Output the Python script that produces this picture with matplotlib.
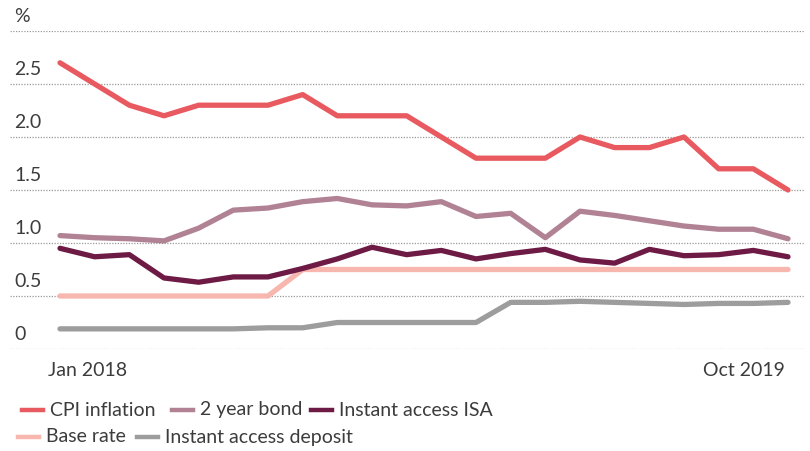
import matplotlib.pyplot as plt
from matplotlib.lines import Line2D
import numpy as np

plt.rcParams['font.family'] = ['Lato', 'DejaVu Sans']

months = ['Jan 2018', 'Feb 2018', 'Mar 2018', 'Apr 2018', 'May 2018', 'Jun 2018',
          'Jul 2018', 'Aug 2018', 'Sep 2018', 'Oct 2018', 'Nov 2018', 'Dec 2018',
          'Jan 2019', 'Feb 2019', 'Mar 2019', 'Apr 2019', 'May 2019', 'Jun 2019',
          'Jul 2019', 'Aug 2019', 'Sep 2019', 'Oct 2019']

cpi = [2.7, 2.5, 2.3, 2.2, 2.3, 2.3, 2.3, 2.4, 2.2, 2.2, 2.2, 2.0,
       1.8, 1.8, 1.8, 2.0, 1.9, 1.9, 2.0, 1.7, 1.7, 1.5]
bond_2y = [1.07, 1.05, 1.04, 1.02, 1.14, 1.31, 1.33, 1.39, 1.42, 1.36, 1.35, 1.39,
           1.25, 1.28, 1.05, 1.30, 1.26, 1.21, 1.16, 1.13, 1.13, 1.04]
isa = [0.95, 0.87, 0.89, 0.67, 0.63, 0.68, 0.68, 0.76, 0.85, 0.96, 0.89, 0.93,
       0.85, 0.90, 0.94, 0.84, 0.81, 0.94, 0.88, 0.89, 0.93, 0.87]
base_rate = [0.5, 0.5, 0.5, 0.5, 0.5, 0.5, 0.5, 0.75, 0.75, 0.75, 0.75, 0.75,
             0.75, 0.75, 0.75, 0.75, 0.75, 0.75, 0.75, 0.75, 0.75, 0.75]
deposit = [0.19, 0.19, 0.19, 0.19, 0.19, 0.19, 0.20, 0.20, 0.25, 0.25, 0.25, 0.25,
           0.25, 0.44, 0.44, 0.45, 0.44, 0.43, 0.42, 0.43, 0.43, 0.44]

y_ticks = [0, 0.5, 1.0, 1.5, 2.0, 2.5, 3.0]
y_labels = ['0', '0.5', '1.0', '1.5', '2.0', '2.5', '%']

series = [
    ('CPI inflation', cpi, '#e85a60'),
    ('2 year bond', bond_2y, '#b08294'),
    ('Instant access ISA', isa, '#6d1a45'),
    ('Base rate', base_rate, '#f7b6ae'),
    ('Instant access deposit', deposit, '#9d9d9d'),
]

text_col = '#3c3c3c'
fs = 14

fig = plt.figure(figsize=(8.1, 4.51), dpi=100)
W, H = 810, 451
# axes spans gridline extent: x 10..805, y 31..349 px
ax = fig.add_axes([10 / W, 1 - 349 / H, 795 / W, 318 / H])

x = np.arange(len(months))
draw_order = [4, 3, 1, 2, 0]
for i in draw_order:
    name, vals, col = series[i]
    ax.plot(x, vals, color=col, lw=3.8, solid_capstyle='round',
            solid_joinstyle='round', clip_on=False, zorder=3)

# x extent so Jan 2018 at px 60, Oct 2019 at px 788
step = (788 - 60) / 21
ax.set_xlim(-(60 - 10) / step, 21 + (805 - 788) / step)
ax.set_ylim(0, 3.0)

for yv, lab in zip(y_ticks, y_labels):
    ax.axhline(yv, color='#999999', lw=0.9, ls=(0, (1, 1.2)), zorder=1)
    ax.annotate(lab, xy=(0, yv), xycoords=('axes fraction', 'data'),
                xytext=(4, 6), textcoords='offset pixels',
                ha='left', va='bottom', fontsize=fs, color=text_col)

for s in ax.spines.values():
    s.set_visible(False)
ax.set_xticks([])
ax.set_yticks([])

ax.annotate(months[0], xy=(0, 0), xycoords='data', xytext=(-12, -13),
            textcoords='offset pixels', ha='left', va='top',
            fontsize=fs, color=text_col)
ax.annotate(months[-1], xy=(21, 0), xycoords='data', xytext=(-3, -13),
            textcoords='offset pixels', ha='right', va='top',
            fontsize=fs, color=text_col)

# custom legend, two rows
legend_pos = [(22, 410), (172, 410), (311, 410), (18, 437), (137, 437)]
for (name, vals, col), (px, py) in zip(series, legend_pos):
    fy = 1 - py / H
    fig.add_artist(Line2D([px / W, (px + 21) / W], [fy, fy], color=col, lw=3.2))
    fig.text((px + 28) / W, fy, name, ha='left', va='center',
             fontsize=fs, color=text_col)

plt.savefig('out.png', dpi=100)
